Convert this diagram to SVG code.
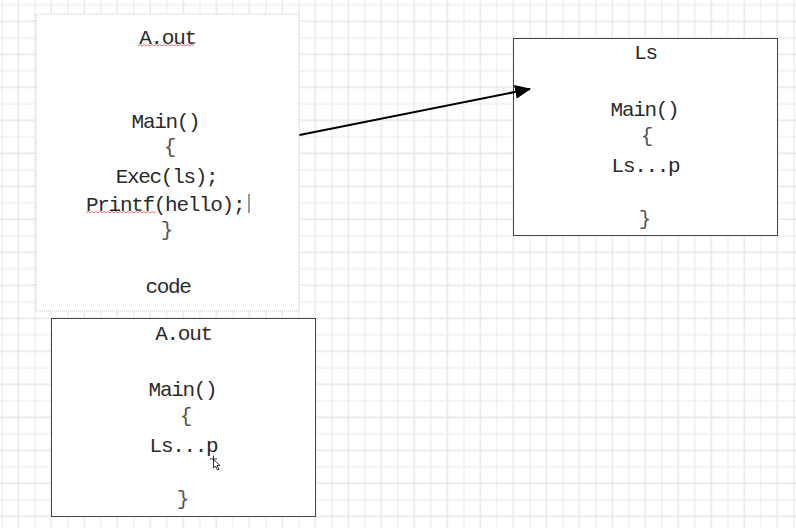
<svg xmlns="http://www.w3.org/2000/svg" width="796" height="528" viewBox="0 0 796 528">
<style>
.t{font-family:"Liberation Mono","DejaVu Sans Mono",monospace;font-size:21px;letter-spacing:-1.3px;fill:#2a2a2a;text-anchor:middle}
.b{fill:#555;font-weight:300}
.box{fill:#fff;stroke:#444;stroke-width:1}
.wavy{fill:none;stroke:#e05050;stroke-width:0.8}
</style>
<defs>
<pattern id="grid" patternUnits="userSpaceOnUse" x="-6.45" y="-3.45" width="33" height="33">
<rect x="7.75" y="0" width="1" height="33" fill="#e8e8e8"/>
<rect x="24.25" y="0" width="1" height="33" fill="#dcdcdc"/>
<rect x="0" y="7.75" width="33" height="1" fill="#e8e8e8"/>
<rect x="0" y="24.25" width="33" height="1" fill="#dcdcdc"/>
</pattern>
<marker id="arr" markerWidth="16" markerHeight="14" refX="15" refY="7" orient="auto" markerUnits="userSpaceOnUse">
<path d="M0,0 L16,7 L0,14 Z" fill="#000"/>
</marker>
</defs>
<rect width="796" height="528" fill="#fff"/>
<rect width="796" height="528" fill="url(#grid)"/>

<g id="code">
<rect x="36" y="14" width="263" height="297" fill="#fff" stroke="#c8c8c8" stroke-width="1" stroke-dasharray="1,1"/>
<text class="t" x="167.5" y="44">A.out</text>
<path class="wavy" d="M138,46 l2,-1.5 l2,1.5 l2,-1.5 l2,1.5 l2,-1.5 l2,1.5 l2,-1.5 l2,1.5 l2,-1.5 l2,1.5 l2,-1.5 l2,1.5 l2,-1.5 l2,1.5 l2,-1.5 l2,1.5 l2,-1.5 l2,1.5 l2,-1.5 l2,1.5 l2,-1.5 l2,1.5 l2,-1.5 l2,1.5 l2,-1.5 l2,1.5 l2,-1.5 l2,1.5"/>
<text class="t" x="165.5" y="128">Main()</text>
<text class="t b" x="169.5" y="153">{</text>
<text class="t" x="166.5" y="183">Exec(ls);</text>
<text class="t" x="86" y="211" style="text-anchor:start">Printf(hello);</text>
<path class="wavy" d="M86,213 l2,-1.5 l2,1.5 l2,-1.5 l2,1.5 l2,-1.5 l2,1.5 l2,-1.5 l2,1.5 l2,-1.5 l2,1.5 l2,-1.5 l2,1.5 l2,-1.5 l2,1.5 l2,-1.5 l2,1.5 l2,-1.5 l2,1.5 l2,-1.5 l2,1.5 l2,-1.5 l2,1.5 l2,-1.5 l2,1.5 l2,-1.5 l2,1.5 l2,-1.5 l2,1.5 l2,-1.5 l2,1.5 l2,-1.5 l2,1.5 l2,-1.5 l2,1.5 l2,-1.5"/>
<line x1="249" y1="194" x2="249" y2="213" stroke="#333" stroke-width="1"/>
<text class="t b" x="166.5" y="236">}</text>
<text class="t" x="168" y="293">code</text>
</g>

<g id="ls">
<rect class="box" x="513.5" y="38.5" width="264" height="197"/>
<text class="t" x="645.5" y="59">Ls</text>
<text class="t" x="644.5" y="116">Main()</text>
<text class="t b" x="646.5" y="142">{</text>
<text class="t" x="645.5" y="172">Ls...p</text>
<text class="t b" x="644.5" y="225">}</text>
</g>

<g id="aout">
<rect class="box" x="51.5" y="318.5" width="264" height="198"/>
<text class="t" x="183.5" y="340">A.out</text>
<text class="t" x="182.5" y="396">Main()</text>
<text class="t b" x="185.5" y="422">{</text>
<text class="t" x="183.5" y="452">Ls...p</text>
<text class="t b" x="182.5" y="505">}</text>
<g stroke="#000" stroke-width="0.8">
<line x1="210" y1="459" x2="217" y2="459"/>
<line x1="213.5" y1="455.5" x2="213.5" y2="462.5"/>
</g>
<path d="M213.5,459.5 L213.5,468 L215.5,466 L217.5,470 L219,469.3 L217,465.5 L220,465.5 Z" fill="#fff" stroke="#000" stroke-width="0.8"/>
</g>

<g id="connectors">
<line x1="299.5" y1="135" x2="530" y2="89" stroke="#000" stroke-width="2" marker-end="url(#arr)"/>
</g>
</svg>
